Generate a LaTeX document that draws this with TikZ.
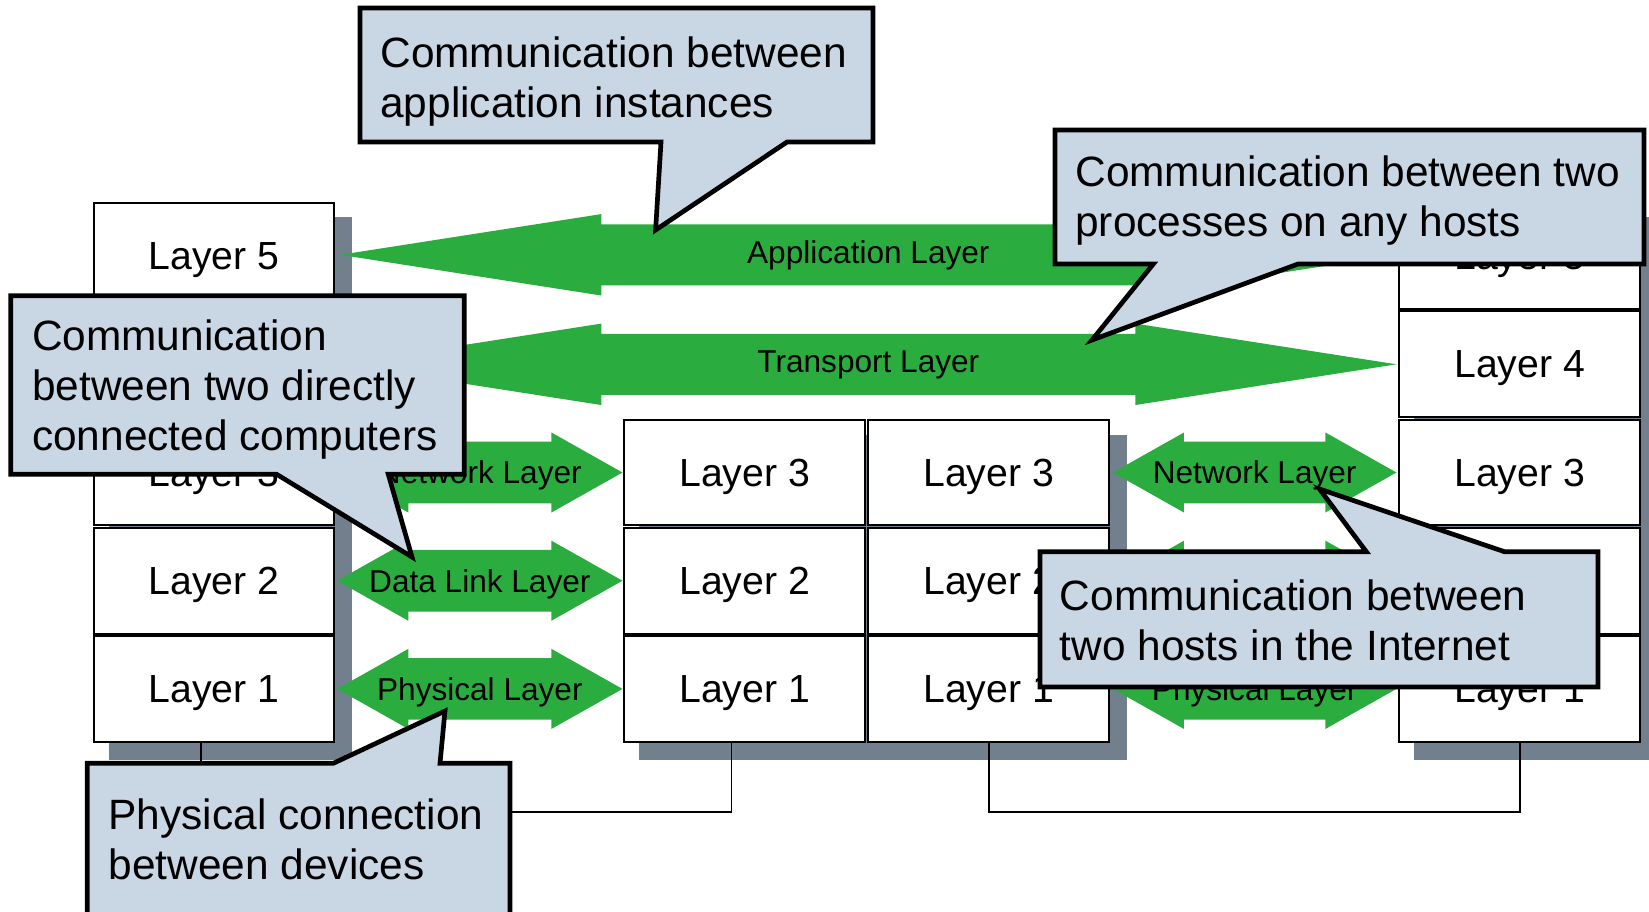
\documentclass[tikz,border=0pt]{standalone}
\usepackage{fontspec}
\setmainfont{Liberation Sans}
\usetikzlibrary{calc,backgrounds}

\definecolor{layergreen}{RGB}{42,173,62}
\definecolor{calloutfill}{RGB}{201,215,229}
\definecolor{shadowgrey}{RGB}{114,128,142}

\tikzset{
  layerbox/.style={draw=black, line width=1pt, fill=white,
    minimum width=120.25pt, minimum height=52.85pt,
    inner sep=0pt, outer sep=0pt, text depth=0pt,
    font=\fontsize{19.6}{23}\selectfont},
  stackshadow/.style={fill=shadowgrey},
  wire/.style={draw=black, line width=0.8pt},
  layerarrow/.style={fill=layergreen},
  arrowlabel/.style={inner sep=0pt, text depth=0pt,
    font=\fontsize{15.8}{19}\selectfont},
  calloutshape/.style={fill=calloutfill, draw=black, line width=2.35pt,
    line join=miter},
  callouttext/.style={inner sep=0pt, align=left, anchor=north west,
    font=\fontsize{21.2}{25}\selectfont},
}

% two-headed block arrow: #1 left tip, #2 right tip, #3 head length,
% #4 head half-height, #5 shaft half-height
\newcommand\twowayarrow[5]{%
  \fill[layerarrow] (#1) -- ($(#1)+(#3,-#4)$) -- ($(#1)+(#3,-#5)$)
    -- ($(#2)+(-#3,-#5)$) -- ($(#2)+(-#3,-#4)$) -- (#2)
    -- ($(#2)+(-#3,#4)$) -- ($(#2)+(-#3,#5)$)
    -- ($(#1)+(#3,#5)$) -- ($(#1)+(#3,#4)$) -- cycle;}

\begin{document}
\begin{tikzpicture}[x=0.5pt, y=-0.5pt]
\useasboundingbox (0,0) rectangle (1649,911);

% host A
\node[layerbox] (A5) at (214,256.1) {Layer 5};
\node[layerbox] (A4) at (214,364.3) {Layer 4};
\node[layerbox] (A3) at (214,472.5) {Layer 3};
\node[layerbox] (A2) at (214,580.7) {Layer 2};
\node[layerbox] (A1) at (214,688.9) {Layer 1};

% router, two interfaces
\node[layerbox] (RA3) at (744.7,472.5) {Layer 3};
\node[layerbox] (RA2) at (744.7,580.7) {Layer 2};
\node[layerbox] (RA1) at (744.7,688.9) {Layer 1};
\node[layerbox] (RB3) at (988.7,472.5) {Layer 3};
\node[layerbox] (RB2) at (988.7,580.7) {Layer 2};
\node[layerbox] (RB1) at (988.7,688.9) {Layer 1};

% host B
\node[layerbox] (B5) at (1519.7,256.1) {Layer 5};
\node[layerbox] (B4) at (1519.7,364.3) {Layer 4};
\node[layerbox] (B3) at (1519.7,472.5) {Layer 3};
\node[layerbox] (B2) at (1519.7,580.7) {Layer 2};
\node[layerbox] (B1) at (1519.7,688.9) {Layer 1};

% white page and drop shadows behind the stacks
\begin{scope}[on background layer]
  \fill[white] (0,0) rectangle (1649,911);
  \fill[stackshadow] ($(A5.north west)+(15,14)$) rectangle ($(A1.south east)+(18,18)$);
  \fill[stackshadow] ($(RA3.north west)+(15,15)$) rectangle ($(RB1.south east)+(18,18)$);
  \fill[stackshadow] ($(B5.north west)+(15,14)$) rectangle ($(B1.south east)+(30,18)$);
\end{scope}

% physical cabling
\draw[wire] ([xshift=-6.65pt]A1.south) -- ++(0,70) -| ([xshift=-6.6pt]RA1.south);
\draw[wire] (RB1.south) -- ++(0,70) -| (B1.south);

% end-to-end layers
\coordinate (appL) at ($(A5.east)+(6,-1.3)$);
\coordinate (appR) at ($(B5.west)+(-3,-1.3)$);
\twowayarrow{appL}{appR}{261}{40.7}{30.5}
\node[arrowlabel] (appText) at ($(appL)!0.5!(appR)+(0,-2.5)$) {Application Layer};

\coordinate (trL) at ($(A4.east)+(6,0)$);
\coordinate (trR) at ($(B4.west)+(-3,0)$);
\twowayarrow{trL}{trR}{261}{40.7}{30.5}
\node[arrowlabel] (trText) at ($(trL)!0.5!(trR)+(0,-3)$) {Transport Layer};

% hop-by-hop layers, host A to router
\coordinate (n1L) at ($(A3.east)+(3,0)$);
\coordinate (n1R) at ($(RA3.west)+(-2,0)$);
\twowayarrow{n1L}{n1R}{71}{40}{30.8}
\node[arrowlabel] (n1Text) at ($(n1L)!0.5!(n1R)$) {Network Layer};

\coordinate (d1L) at ($(A2.east)+(3,0)$);
\coordinate (d1R) at ($(RA2.west)+(-2,0)$);
\twowayarrow{d1L}{d1R}{71}{40}{30.8}
\node[arrowlabel] (d1Text) at ($(d1L)!0.5!(d1R)$) {Data Link Layer};

\coordinate (p1L) at ($(A1.east)+(3,0)$);
\coordinate (p1R) at ($(RA1.west)+(-2,0)$);
\twowayarrow{p1L}{p1R}{71}{40}{30.8}
\node[arrowlabel] (p1Text) at ($(p1L)!0.5!(p1R)$) {Physical Layer};

% hop-by-hop layers, router to host B
\coordinate (n2L) at ($(RB3.east)+(4,0)$);
\coordinate (n2R) at ($(B3.west)+(-3,0)$);
\twowayarrow{n2L}{n2R}{71}{40}{30.8}
\node[arrowlabel] (n2Text) at ($(n2L)!0.5!(n2R)$) {Network Layer};

\coordinate (d2L) at ($(RB2.east)+(4,0)$);
\coordinate (d2R) at ($(B2.west)+(-3,0)$);
\twowayarrow{d2L}{d2R}{71}{40}{30.8}
\node[arrowlabel] (d2Text) at ($(d2L)!0.5!(d2R)$) {Data Link Layer};

\coordinate (p2L) at ($(RB1.east)+(4,0)$);
\coordinate (p2R) at ($(B1.west)+(-3,0)$);
\twowayarrow{p2L}{p2R}{71}{40}{30.8}
\node[arrowlabel] (p2Text) at ($(p2L)!0.5!(p2R)$) {Physical Layer};

% callouts
\coordinate (c1tip) at (655.6,230);
\filldraw[calloutshape] (360,8) -- (873,8) -- (873,142) -- (787,142)
  -- (c1tip) -- (661,142) -- (360,142) -- cycle;
\node[callouttext] (c1text) at (380,36.7)
  {Communication between\\application instances};

\coordinate (c2tip) at (1092,340);
\filldraw[calloutshape] (1055,130) -- (1644,130) -- (1644,264) -- (1298,264)
  -- (c2tip) -- (1153.3,264) -- (1055,264) -- cycle;
\node[callouttext] (c2text) at (1075,155.5)
  {Communication between two\\processes on any hosts};

\coordinate (c3tip) at (412,557);
\filldraw[calloutshape] (10.7,295.7) -- (464.3,295.7) -- (464.3,474.3) -- (388.3,474.3)
  -- (c3tip) -- (276.7,474.3) -- (10.7,474.3) -- cycle;
\node[callouttext] (c3text) at (31.7,319)
  {Communication\\between two directly\\connected computers};

\coordinate (c4tip) at (445,711);
\filldraw[calloutshape] (87.3,763.3) -- (333.3,763.3) -- (c4tip) -- (440,763.3)
  -- (510,763.3) -- (510,940) -- (87.3,940) -- cycle;
\node[callouttext] (c4text) at (108.3,798.3)
  {Physical connection\\between devices};

\coordinate (c5tip) at (1319.5,489);
\filldraw[calloutshape] (1040,551.7) -- (1366.3,551.7) -- (c5tip) -- (1504.5,551.7)
  -- (1598,551.7) -- (1598,687) -- (1040,687) -- cycle;
\node[callouttext] (c5text) at (1059.5,579)
  {Communication between\\two hosts in the Internet};
\end{tikzpicture}
\end{document}
